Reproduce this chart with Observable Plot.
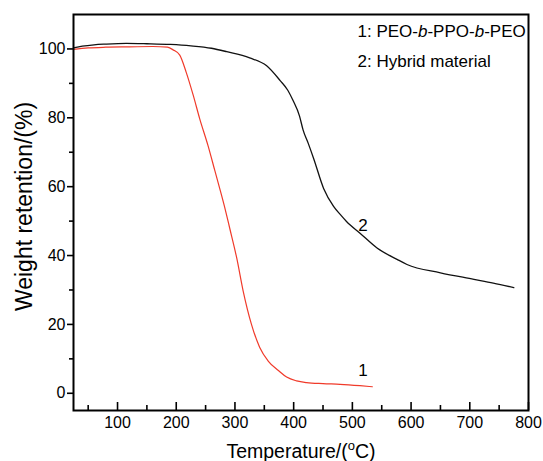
<!DOCTYPE html>
<html>
<head>
<meta charset="utf-8">
<script src="https://cdn.jsdelivr.net/npm/d3@7"></script>
<script src="https://cdn.jsdelivr.net/npm/@observablehq/plot@0.6"></script>
<style>
  html, body { margin: 0; padding: 0; background: #fff; }
  #chart svg { display: block; }
</style>
</head>
<body>
<div id="chart"></div>
<script>
// Curve 1: PEO-b-PPO-b-PEO (red)
const tempPEO = [25, 50, 80, 120, 160, 185, 195, 206, 217, 229, 240, 254, 266, 274, 284, 291, 303, 314, 328, 342, 357, 374, 388, 405, 422, 450, 479, 513, 534];
const weightPEO = [99.9, 100.3, 100.5, 100.6, 100.7, 100.5, 99.7, 98.2, 93.2, 86.5, 79.7, 72, 64.5, 59.5, 53, 48, 39.3, 29.7, 20.1, 13.4, 9.3, 6.6, 4.7, 3.6, 3.1, 2.8, 2.6, 2.2, 1.9];

// Curve 2: Hybrid material (black)
const tempHybrid = [25, 40, 60, 80, 115, 150, 190, 225, 260, 286, 325, 354, 377, 390, 399, 410, 416, 425, 434, 451, 468, 480, 490, 513, 542, 576, 593, 650, 707, 740, 775];
const weightHybrid = [100.3, 100.8, 101.2, 101.4, 101.6, 101.5, 101.3, 100.9, 100.2, 99.2, 97.4, 95.1, 90.8, 88, 85, 80.5, 76.5, 72.5, 68.2, 59.5, 54.3, 51.8, 49.9, 46.5, 42.2, 38.9, 37.4, 35, 33.1, 32, 30.7];

// Axis ticks
const xMajorTicks = [100, 200, 300, 400, 500, 600, 700, 800];
const xMinorTicks = [50, 150, 250, 350, 450, 550, 650, 750];
const yMajorTicks = [0, 20, 40, 60, 80, 100];
const yMinorTicks = [10, 30, 50, 70, 90];

// Curve labels and legend
const curveLabels = ["1", "2"];
const curveLabelT = [518, 518];
const curveLabelW = [6.6, 48.8];
const legendLines = ["1: PEO-b-PPO-b-PEO", "2: Hybrid material"];
const xTitle = "Temperature/(°C)";
const yTitle = "Weight retention/(%)";

const peo = tempPEO.map((t, i) => ({t, w: weightPEO[i]}));
const hybrid = tempHybrid.map((t, i) => ({t, w: weightHybrid[i]}));
const labels = curveLabels.map((s, i) => ({s, t: curveLabelT[i], w: curveLabelW[i]}));

const FONT = "'Liberation Sans', Arial, Helvetica, sans-serif";
const W = 543, H = 461, mT = 14, mB = 51, mL = 73, mR = 15;
const innerH = H - mT - mB;

const plot = Plot.plot({
  width: W,
  height: H,
  marginTop: mT,
  marginBottom: mB,
  marginLeft: mL,
  marginRight: mR,
  style: {fontFamily: FONT, fontSize: "16px", color: "#000", background: "#fff"},
  x: {domain: [25, 800]},
  y: {domain: [-5, 110]},
  marks: [
    Plot.line(peo, {x: "t", y: "w", stroke: "#f03a2a", strokeWidth: 1.2, curve: "monotone-x"}),
    Plot.line(hybrid, {x: "t", y: "w", stroke: "#111", strokeWidth: 1.3, curve: "monotone-x"}),
    Plot.text(labels, {x: "t", y: "w", text: "s", fontSize: 17, fill: "#000"}),
    // x ticks (inward)
    Plot.tickX(xMajorTicks, {x: d => d, insetTop: innerH - 8, stroke: "#000", strokeWidth: 1.6}),
    Plot.tickX(xMinorTicks, {x: d => d, insetTop: innerH - 5, stroke: "#000", strokeWidth: 1.6}),
    Plot.axisX({ticks: xMajorTicks, tickSize: 0, tickPadding: 6, fontSize: 16, label: null}),
    // y ticks (outward)
    Plot.axisY({ticks: yMajorTicks, tickSize: 6, tickPadding: 2, fontSize: 16, strokeWidth: 1.6, label: null}),
    Plot.axisY({ticks: yMinorTicks, tickSize: 4, tickFormat: () => "", strokeWidth: 1.6, label: null}),
    Plot.frame({stroke: "#000", strokeWidth: 2}),
    // legend
    Plot.text([legendLines[0]], {frameAnchor: "top-left", dx: 284, dy: 17, textAnchor: "start", lineAnchor: "middle", fontSize: 17, ariaLabel: "legend1"}),
    Plot.text([legendLines[1]], {frameAnchor: "top-left", dx: 284, dy: 47, textAnchor: "start", lineAnchor: "middle", fontSize: 17, ariaLabel: "legend2"}),
    // axis titles
    Plot.text([xTitle], {frameAnchor: "bottom", dy: 41, lineAnchor: "middle", fontSize: 19.5, ariaLabel: "xtitle"}),
    Plot.text([yTitle], {frameAnchor: "left", dx: -49, dy: -6, rotate: -90, textAnchor: "middle", lineAnchor: "middle", fontSize: 23, ariaLabel: "ytitle"})
  ]
});

document.getElementById("chart").appendChild(plot);

// Rich text: italic "b" in legend, superscript "o" in x title
const svg = d3.select(plot);
svg.selectAll("text").each(function () {
  const el = d3.select(this);
  const txt = this.textContent;
  if (txt === legendLines[0]) {
    el.text("");
    const parts = [["1: PEO-", false], ["b", true], ["-PPO-", false], ["b", true], ["-PEO", false]];
    for (const [p, it] of parts) {
      const ts = el.append("tspan").text(p);
      if (it) ts.attr("font-style", "italic");
    }
  } else if (txt === xTitle) {
    el.text("");
    el.append("tspan").text("Temperature/(");
    el.append("tspan").attr("dy", "-8").attr("font-size", "13").text("o");
    el.append("tspan").attr("dy", "8").text("C)");
  }
});
</script>
</body>
</html>
